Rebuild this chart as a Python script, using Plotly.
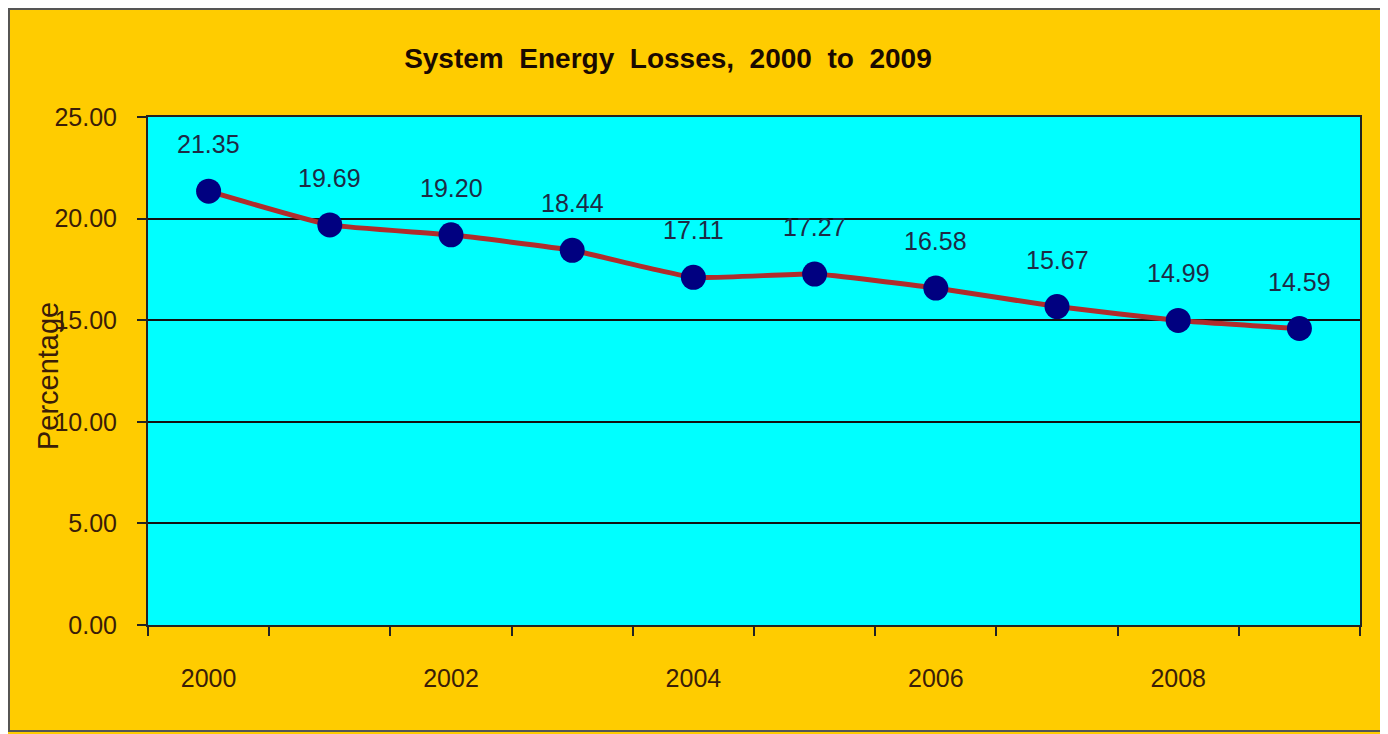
import plotly.graph_objects as go

years = [2000, 2001, 2002, 2003, 2004, 2005, 2006, 2007, 2008, 2009]
losses = [21.35, 19.69, 19.20, 18.44, 17.11, 17.27, 16.58, 15.67, 14.99, 14.59]
x_tick_vals = [2000, 2002, 2004, 2006, 2008]
y_tick_vals = [0, 5, 10, 15, 20, 25]

TXT = "#3a1d08"
FONT = "Liberation Sans, Arial, sans-serif"

fig = go.Figure()
fig.add_trace(go.Scatter(
    x=years, y=losses, mode="lines+markers",
    line=dict(color="#b02c2c", width=5, shape="spline", smoothing=0.4),
    marker=dict(color="#000080", size=25, line=dict(width=0)),
    hoverinfo="skip", showlegend=False,
))

for x, y in zip(years, losses):
    fig.add_annotation(x=x, y=y, text=f"{y:.2f}", showarrow=False, yshift=47,
                       font=dict(family=FONT, size=25, color="#1e2a45"))

fig.add_annotation(xref="paper", yref="paper", x=-0.0825, y=0.49, text="Percentage",
                   textangle=-90, showarrow=False, xanchor="center", yanchor="middle",
                   font=dict(family=FONT, size=29, color=TXT))

# outer chart border
fig.add_shape(type="rect", xref="paper", yref="paper",
              x0=-0.1147, x1=1.0206, y0=-0.2087, y1=1.2126,
              line=dict(color="#555555", width=2), layer="below")

fig.update_layout(
    width=1380, height=726,
    margin=dict(l=140, r=28, t=109, b=109),
    paper_bgcolor="#ffcc00", plot_bgcolor="#00ffff",
    title=dict(text="<b>System  Energy  Losses,  2000  to  2009</b>", xref="paper", x=0.429,
               xanchor="center", y=0.931, yanchor="middle",
               font=dict(family=FONT, size=28, color="#1a0a00")),
    xaxis=dict(range=[1999.5, 2009.5], tickmode="array", tickvals=x_tick_vals,
               ticktext=[str(v) for v in x_tick_vals], ticks="", showgrid=False,
               zeroline=False, showline=True, linecolor="#222222", linewidth=2, mirror=True,
               tickfont=dict(family=FONT, size=25, color=TXT), ticklabelstandoff=30,
               minor=dict(tickmode="linear", tick0=1999.5, dtick=1, ticks="outside",
                          ticklen=9, tickcolor="#222222", tickwidth=2, showgrid=False)),
    yaxis=dict(range=[0, 25], tickmode="array", tickvals=y_tick_vals,
               ticktext=[f"{v:.2f}" for v in y_tick_vals], ticks="outside", ticklen=9,
               tickcolor="#222222", tickwidth=2, showgrid=True, gridcolor="#111111",
               gridwidth=1.5, zeroline=False, showline=True, linecolor="#222222",
               linewidth=2, mirror=True, ticklabelstandoff=15,
               tickfont=dict(family=FONT, size=25, color=TXT)),
)

fig.write_html("out.html")
